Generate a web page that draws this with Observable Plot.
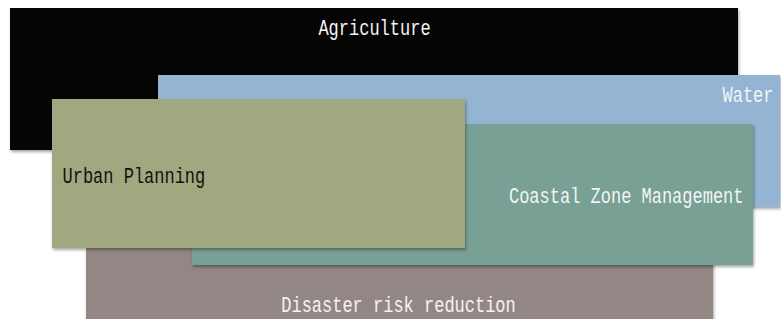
<!DOCTYPE html>
<html>
<head>
<meta charset="utf-8">
<script src="https://cdn.jsdelivr.net/npm/d3@7"></script>
<script src="https://cdn.jsdelivr.net/npm/@observablehq/plot@0.6"></script>
<style>
  html, body { margin: 0; padding: 0; background: #ffffff; }
  #chart svg { display: block; }
  .box { filter: drop-shadow(1px 2px 1.5px rgba(0,0,0,0.35)); }
</style>
</head>
<body>
<div id="chart"></div>
<script>
// Sectors, drawn back to front
const sectors = ["Agriculture", "Water", "Disaster risk reduction", "Coastal Zone Management", "Urban Planning"];
const left    = [10, 158, 86, 192, 52];
const right   = [738, 780, 713, 753, 465];
const top_    = [8, 75, 248, 124, 99];
const bottom  = [150, 207, 330, 265, 248];
const fills   = ["#050505", "#93b4d2", "#938785", "#78a094", "#a1a77e"];
// Label placement
const labelX      = [374, 773, 398, 743, 62];
const labelY      = [28, 95, 305, 196, 176];
const labelAnchor = ["middle", "end", "middle", "end", "start"];
const labelColor  = ["#f4f4f4", "#f4f4f4", "#f4f4f4", "#f4f4f4", "#111111"];

const rows = sectors.map((s, i) => ({
  name: s, x1: left[i], x2: right[i], y1: top_[i], y2: bottom[i],
  fill: fills[i], lx: labelX[i], ly: labelY[i], anchor: labelAnchor[i], color: labelColor[i]
}));

const marks = [];
rows.forEach(r => {
  marks.push(Plot.rect([r], {x1: "x1", x2: "x2", y1: "y1", y2: "y2", fill: "fill", className: "box"}));
  marks.push(Plot.text([r], {x: "lx", y: "ly", text: "name", textAnchor: r.anchor, fill: "color",
    fontSize: 17, className: "lbl", fontFamily: "Liberation Mono, DejaVu Sans Mono, monospace"}));
});

const chart = Plot.plot({
  width: 781,
  height: 319,
  margin: 0,
  x: {domain: [0, 781], range: [0, 781], axis: null},
  y: {domain: [0, 319], range: [0, 319], axis: null},
  style: {background: "#ffffff", overflow: "hidden"},
  marks
});
// Stretch the labels vertically to mimic the tall, narrow original typeface
d3.select(chart).selectAll(".lbl text").each(function() {
  const t = this.getAttribute("transform") || "";
  this.setAttribute("transform", t + " scale(1,1.28)");
});
document.getElementById("chart").appendChild(chart);
</script>
</body>
</html>
